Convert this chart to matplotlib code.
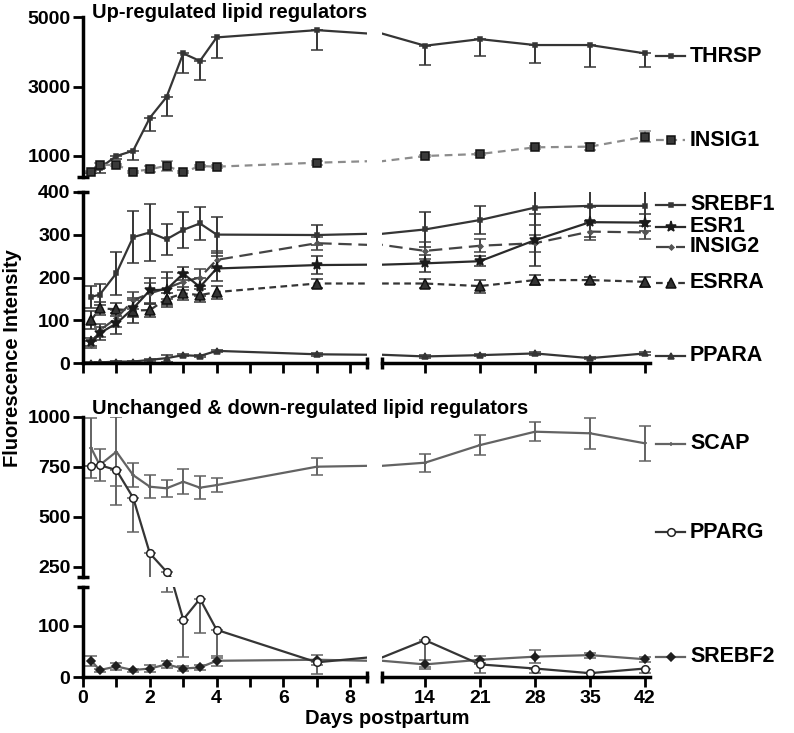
import numpy as np
import matplotlib
matplotlib.use("Agg")
import matplotlib.pyplot as plt
from matplotlib.lines import Line2D

plt.rcParams['font.family'] = ['Liberation Sans', 'DejaVu Sans']
plt.rcParams['font.weight'] = 'bold'

W, H = 794, 733

days = [0.25, 0.5, 1, 1.5, 2, 2.5, 3, 3.5, 4, 7, 14, 21, 28, 35, 42]

# upper graph (broken y axis 0-400 / 400-5000)
thrsp = [550, 650, 1000, 1150, 2100, 2700, 3960, 3740, 4420, 4630, 4180, 4370, 4200, 4200, 3960]
thrsp_lo = [50, 150, 80, 270, 380, 560, 560, 540, 600, 580, 560, 480, 520, 640, 380]
insig1 = [550, 745, 740, 550, 615, 720, 528, 711, 692, 807, 1000, 1058, 1250, 1270, 1557]
insig1_err = [20, 60, 40, 30, 90, 150, 30, 40, 40, 60, 40, 40, 50, 100, 150]

srebf1 = [155, 160, 210, 294, 305, 289, 311, 326, 300, 299, 312, 334, 363, 367, 367]
srebf1_err = [25, 25, 50, 60, 67, 36, 42, 38, 42, 23, 40, 33, 40, 35, 35]
esr1 = [50, 70, 93, 128, 170, 172, 209, 178, 221, 229, 233, 238, 287, 329, 328]
esr1_err = [10, 15, 25, 20, 30, 40, 15, 20, 30, 20, 20, 12, 60, 35, 20]
insig2 = [43, 77, 105, 147, 163, 175, 190, 200, 241, 280, 262, 274, 280, 307, 305]
insig2_err = [8, 15, 20, 20, 25, 25, 20, 20, 20, 15, 20, 15, 20, 20, 15]
esrra = [101, 128, 126, 123, 124, 150, 163, 159, 166, 186, 186, 180, 194, 194, 190]
esrra_err = [20, 15, 15, 30, 15, 15, 15, 15, 15, 10, 10, 15, 12, 8, 12]
ppara = [1, 2, 4, 4, 8, 12, 19, 17, 29, 21, 16, 19, 23, 12, 23]
ppara_err = [1, 1, 1, 1, 3, 8, 3, 3, 3, 3, 3, 3, 3, 3, 3]

# lower graph (broken y axis 0-175 / 200-1000)
scap = [842, 758, 825, 708, 650, 642, 675, 645, 658, 750, 770, 858, 925, 917, 867]
scap_err = [150, 80, 172, 60, 58, 42, 62, 58, 35, 42, 45, 50, 48, 78, 88]
pparg = [753, 758, 733, 595, 317, 225, 112, 152, 92, 29, 72, 25, 17, 8, 17]
pparg_lo = [0, 0, 175, 170, 130, 60, 72, 67, 55, 23, 53, 17, 8, 0, 8]
srebf2 = [32, 14, 21, 14, 17, 25, 17, 19, 32, 34, 25, 34, 40, 43, 35]
srebf2_err = [10, 3, 7, 3, 7, 7, 4, 5, 10, 10, 8, 7, 12, 5, 5]

dark = '#353535'
gray = '#8c8c8c'
mid = '#636363'

styles = {
    'THRSP': dict(color=dark, ls='-', marker='s', ms=3, mfc=dark, mec=dark, ecolor=dark),
    'INSIG1': dict(color=gray, ls=(0, (3.5, 2.5)), marker='s', ms=6, mfc='#3a3a3a', mec='#111111', ecolor=gray),
    'SREBF1': dict(color=dark, ls='-', marker='s', ms=2.5, mfc=dark, mec=dark, ecolor=dark),
    'ESR1': dict(color='#2a2a2a', ls='-', marker='*', ms=8, mfc='#1a1a1a', mec='#1a1a1a', ecolor=dark),
    'INSIG2': dict(color='#444444', ls=(0, (6, 3)), marker='D', ms=2.5, mfc='#555555', mec='#555555', ecolor='#444444'),
    'ESRRA': dict(color=dark, ls=(0, (3, 2)), marker='^', ms=6.5, mfc='#333333', mec='#111111', ecolor=dark),
    'PPARA': dict(color=dark, ls='-', marker='^', ms=4.5, mfc=dark, mec=dark, ecolor=dark),
    'SCAP': dict(color=mid, ls='-', marker='+', ms=3, mfc=mid, mec=mid, ecolor=mid),
    'PPARG': dict(color=dark, ls='-', marker='o', ms=5.5, mfc='white', mec='#222222', ecolor=mid),
    'SREBF2': dict(color=mid, ls='-', marker='D', ms=4.5, mfc='#1e1e1e', mec='#1e1e1e', ecolor=mid),
}

fig = plt.figure(figsize=(W / 100, H / 100), dpi=100)


def add_ax(x0, x1, y0, y1):
    return fig.add_axes([x0 / W, 1 - y1 / H, (x1 - x0) / W, (y1 - y0) / H])


def fx(x):
    return x / W


def fy(y):
    return 1 - y / H


xl = (83, 367)
xr = (381.8, 649.7)
panels = {
    'p1': (17.3, 176.8, (400, 5000), [1000, 3000, 5000]),
    'p2': (191.7, 363.3, (0, 400), [0, 100, 200, 300, 400]),
    'p3': (416.7, 576.7, (200, 1000), [250, 500, 750, 1000]),
    'p4': (587.0, 677.3, (0, 175), [0, 100]),
}
axes = {}
for key, (y0, y1, ylim, yt) in panels.items():
    aL = add_ax(xl[0], xl[1], y0, y1)
    aR = add_ax(xr[0], xr[1], y0, y1)
    for a in (aL, aR):
        a.set_facecolor('none')
        a.set_ylim(*ylim)
        for s in ('top', 'right'):
            a.spines[s].set_visible(False)
        a.tick_params(width=2, length=7, labelsize=14, colors='black', pad=2)
        for s in a.spines.values():
            s.set_linewidth(2.5)
    aL.set_xlim(0, 8.5)
    aR.set_xlim(8.5, 42.6)
    aL.set_yticks(yt)
    aR.spines['left'].set_visible(False)
    aR.set_yticks([])
    lower = key in ('p2', 'p4')
    for a in (aL, aR):
        if not lower:
            a.spines['bottom'].set_visible(False)
            a.set_xticks([])
    if lower:
        aL.set_xticks(range(0, 9))
        aR.set_xticks([14, 21, 28, 35, 42])
        if key == 'p4':
            aL.set_xticklabels([str(d) if d % 2 == 0 else '' for d in range(0, 9)])
        else:
            aL.set_xticklabels([])
            aR.set_xticklabels([])
        # x break caps
        aL.plot([1], [0], marker='|', ms=9, mew=2.5, color='black', transform=aL.transAxes, clip_on=False)
        aR.plot([0], [0], marker='|', ms=9, mew=2.5, color='black', transform=aR.transAxes, clip_on=False)
        aL.plot([0], [1], marker='_', ms=9, mew=2.5, color='black', transform=aL.transAxes, clip_on=False)
    else:
        aL.plot([0], [0], marker='_', ms=9, mew=2.5, color='black', transform=aL.transAxes, clip_on=False)
    axes[key] = (aL, aR)


def draw(keys, name, vals, lo, hi):
    st = styles[name]
    for key in keys:
        for a in axes[key]:
            a.errorbar(days, vals, yerr=[lo, hi], color=st['color'], ls=st['ls'], lw=1.6,
                       marker=st['marker'], ms=st['ms'], mfc=st['mfc'], mec=st['mec'], mew=1.1,
                       ecolor=st['ecolor'], elinewidth=1.4, capsize=4, capthick=1.4)


zeros = [0] * len(days)
draw(['p1'], 'THRSP', thrsp, thrsp_lo, zeros)
draw(['p1'], 'INSIG1', insig1, insig1_err, insig1_err)
draw(['p2'], 'PPARA', ppara, ppara_err, ppara_err)
draw(['p2'], 'ESRRA', esrra, esrra_err, esrra_err)
draw(['p2'], 'INSIG2', insig2, insig2_err, insig2_err)
draw(['p2'], 'ESR1', esr1, esr1_err, esr1_err)
draw(['p2'], 'SREBF1', srebf1, srebf1_err, srebf1_err)
draw(['p3', 'p4'], 'SCAP', scap, scap_err, scap_err)
draw(['p3', 'p4'], 'SREBF2', srebf2, srebf2_err, srebf2_err)
draw(['p3', 'p4'], 'PPARG', pparg, pparg_lo, zeros)

# right-hand key
key_rows = [('THRSP', 56), ('INSIG1', 140), ('SREBF1', 205), ('ESR1', 227), ('INSIG2', 247),
            ('ESRRA', 283), ('PPARA', 356), ('SCAP', 444), ('PPARG', 532), ('SREBF2', 657)]
for name, y in key_rows:
    st = styles[name]
    fig.add_artist(Line2D([fx(656), fx(685)], [fy(y), fy(y)], color=st['color'], ls=st['ls'], lw=1.6))
    fig.add_artist(Line2D([fx(670.5)], [fy(y)], marker=st['marker'], ms=st['ms'], mfc=st['mfc'],
                          mec=st['mec'], mew=1.1, ls='none'))
    fig.text(fx(690), fy(y), name, fontsize=15.5, fontweight='bold', va='center', ha='left')

fig.text(fx(92), fy(12), 'Up-regulated lipid regulators', fontsize=14.5, fontweight='bold', va='center')
fig.text(fx(92), fy(409), 'Unchanged & down-regulated lipid regulators', fontsize=14.5,
         fontweight='bold', va='center')
fig.text(fx(13), fy(358), 'Fluorescence Intensity', fontsize=14.5, fontweight='bold', rotation=90,
         va='center', ha='center')
fig.text(fx(387), fy(718), 'Days postpartum', fontsize=14.5, fontweight='bold', va='center', ha='center')

fig.savefig('out.png', dpi=100)
